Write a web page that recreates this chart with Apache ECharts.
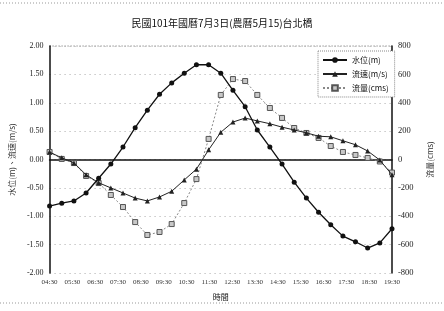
<!DOCTYPE html>
<html>
<head>
<meta charset="utf-8">
<script src="https://cdn.jsdelivr.net/npm/echarts@6/dist/echarts.min.js"></script>
<style>
  html, body { margin: 0; padding: 0; background: #fff; }
  #main { width: 444px; height: 311px; }
</style>
</head>
<body>
<div id="main"></div>
<script>
// sample times
var times = ["04:30", "05:02", "05:34", "06:06", "06:39", "07:11", "07:43", "08:15", "08:47", "09:19",
  "09:51", "10:24", "10:56", "11:28", "12:00", "12:32", "13:04", "13:36", "14:09", "14:41",
  "15:13", "15:45", "16:17", "16:49", "17:21", "17:54", "18:26", "18:58", "19:30"];

var tickLabels = ["04:30", "05:30", "06:30", "07:30", "08:30", "09:30", "10:30", "11:30",
  "12:30", "13:30", "14:30", "15:30", "16:30", "17:30", "18:30", "19:30"];

// 水位 (m)
var level = [-0.82, -0.77, -0.73, -0.59, -0.33, -0.08, 0.22, 0.56, 0.87, 1.15,
  1.35, 1.52, 1.67, 1.67, 1.52, 1.22, 0.93, 0.52, 0.22, -0.08,
  -0.40, -0.68, -0.93, -1.15, -1.35, -1.45, -1.56, -1.47, -1.22];

// 流速 (m/s)
var speed = [0.13, 0.03, -0.06, -0.27, -0.41, -0.50, -0.59, -0.68, -0.73, -0.66,
  -0.56, -0.36, -0.17, 0.17, 0.48, 0.66, 0.73, 0.68, 0.63, 0.57,
  0.52, 0.47, 0.41, 0.40, 0.33, 0.26, 0.15, -0.01, -0.27];

// 流量 (cms)
var flow = [53, 4, -25, -116, -166, -250, -335, -441, -532, -511,
  -455, -307, -138, 145, 455, 567, 553, 455, 363, 293,
  222, 187, 152, 95, 53, 32, 11, -14, -92];

function toX(t) {
  var p = t.split(":");
  return (+p[0] * 60 + +p[1] - 270) / 60;
}
function pairs(vals) {
  return vals.map(function (v, i) { return [toX(times[i]), v]; });
}

var serif = "'Liberation Serif', 'Noto Sans CJK TC', serif";
var cjk = "'Noto Sans CJK TC', 'Liberation Serif', serif";

var chart = echarts.init(document.getElementById("main"));
var option = {
  animation: false,
  backgroundColor: "#fff",
  title: {
    text: "民國101年國曆7月3日(農曆5月15)台北橋",
    left: "center",
    top: 13,
    textStyle: { fontFamily: cjk, fontSize: 10, fontWeight: "normal", color: "#111" }
  },
  graphic: [
    { type: "line", shape: { x1: 0, y1: 3, x2: 444, y2: 3 },
      style: { stroke: "#999", lineDash: [1, 2], lineWidth: 1 } },
    { type: "line", shape: { x1: 0, y1: 303, x2: 444, y2: 303 },
      style: { stroke: "#999", lineDash: [1, 2], lineWidth: 1 } }
  ],
  legend: {
    orient: "vertical",
    left: 318,
    top: 51,
    padding: [5, 6, 5, 4],
    itemGap: 6,
    itemWidth: 24,
    itemHeight: 7,
    backgroundColor: "#fff",
    borderColor: "#888",
    borderWidth: 1,
    borderType: "dotted",
    textStyle: { fontFamily: cjk, fontSize: 8, color: "#111" },
    data: ["水位(m)", "流速(m/s)", "流量(cms)"]
  },
  grid: { left: 42, right: 52, top: 46, bottom: 38 },
  xAxis: {
    type: "value",
    min: 0,
    max: 15,
    interval: 1,
    name: "時間",
    nameLocation: "middle",
    nameGap: 20,
    nameTextStyle: { fontFamily: cjk, fontSize: 8, color: "#111" },
    axisLine: { lineStyle: { color: "#111", width: 1.5 } },
    axisTick: { show: false },
    axisLabel: {
      fontFamily: serif, fontSize: 7, color: "#333", margin: 6,
      formatter: function (v) { return tickLabels[Math.round(v)] || ""; }
    },
    splitLine: { show: false }
  },
  yAxis: [
    {
      type: "value",
      min: -2,
      max: 2,
      interval: 0.5,
      name: "水位(m)、流速(m/s)",
      nameLocation: "middle",
      nameRotate: 90,
      nameGap: 26,
      nameTextStyle: { fontFamily: cjk, fontSize: 8, color: "#333" },
      axisLine: { show: true, lineStyle: { color: "#111", width: 1.5 } },
      axisTick: { show: false },
      axisLabel: {
        fontFamily: serif, fontSize: 8, color: "#222", margin: 6,
        formatter: function (v) { return v.toFixed(2); }
      },
      splitLine: { show: true, lineStyle: { color: "#aaa", type: [1, 4], width: 1 } }
    },
    {
      type: "value",
      min: -800,
      max: 800,
      interval: 200,
      name: "流量(cms)",
      nameLocation: "middle",
      nameRotate: 90,
      nameGap: 34,
      nameTextStyle: { fontFamily: cjk, fontSize: 8, color: "#333" },
      axisLine: { show: true, lineStyle: { color: "#111", width: 1.5 } },
      axisTick: { show: false },
      axisLabel: { fontFamily: serif, fontSize: 8.5, color: "#222", margin: 6 },
      splitLine: { show: false }
    }
  ],
  series: [
    {
      name: "水位(m)",
      type: "line",
      yAxisIndex: 0,
      data: pairs(level),
      symbol: "circle",
      symbolSize: 5,
      lineStyle: { color: "#111", width: 1.3 },
      itemStyle: { color: "#111" },
      z: 4
    },
    {
      name: "流速(m/s)",
      type: "line",
      yAxisIndex: 0,
      data: pairs(speed),
      symbol: "triangle",
      symbolSize: 5,
      lineStyle: { color: "#222", width: 1 },
      itemStyle: { color: "#222" },
      z: 3
    },
    {
      name: "流量(cms)",
      type: "line",
      yAxisIndex: 1,
      data: pairs(flow),
      symbol: "rect",
      symbolSize: 5,
      lineStyle: { color: "#888", width: 1, type: [2, 2] },
      itemStyle: { color: "#c8c8c8", borderColor: "#555", borderWidth: 1 },
      z: 2
    }
  ]
};
chart.setOption(option);

// top border of the plot area
var tl = chart.convertToPixel({ gridIndex: 0 }, [0, 2]);
var tr = chart.convertToPixel({ gridIndex: 0 }, [15, 2]);
chart.setOption({
  graphic: option.graphic.concat([
    { type: "line", shape: { x1: tl[0], y1: tl[1], x2: tr[0], y2: tr[1] },
      style: { stroke: "#666", lineDash: [1, 2], lineWidth: 1 } }
  ])
});
</script>
</body>
</html>
